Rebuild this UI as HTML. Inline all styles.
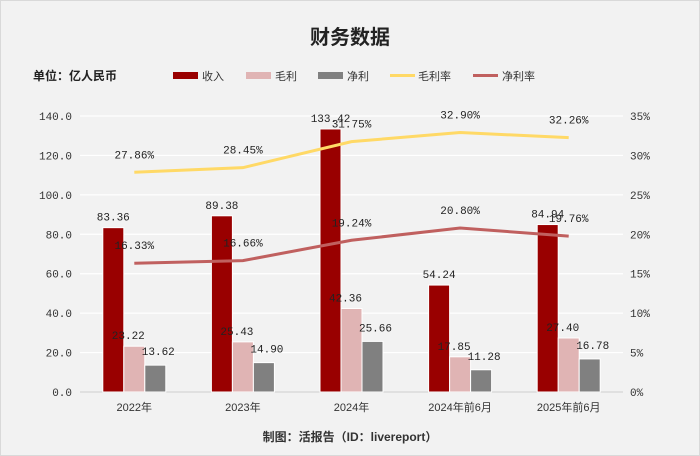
<!DOCTYPE html>
<html><head><meta charset="utf-8"><style>
body{margin:0;background:#fff}
#c{width:700px;height:456px;position:relative;overflow:hidden}
</style></head><body>
<div id="c">
<svg id="s" width="700" height="456" xmlns="http://www.w3.org/2000/svg">
<rect x="0.5" y="0.5" width="699" height="455" fill="#f2f2f2" stroke="#d9d9d9"/>
<text x="350" y="44" text-anchor="middle" font-family="Liberation Sans, Noto Sans CJK SC, sans-serif" font-size="20" font-weight="bold" fill="#222">财务数据</text>
<text x="33" y="80" font-family="Liberation Sans, Noto Sans CJK SC, sans-serif" font-size="12" font-weight="bold" fill="#222">单位：亿人民币</text>
<g id="legend" font-family="Liberation Sans, Noto Sans CJK SC, sans-serif" font-size="11" fill="#333">
<g><rect x="173" y="72" width="25" height="7" fill="#990000"/><text x="202" y="80">收入</text></g>
<g><rect x="246" y="72" width="25" height="7" fill="#e0b4b4"/><text x="275" y="80">毛利</text></g>
<g><rect x="318" y="72" width="25" height="7" fill="#808080"/><text x="347" y="80">净利</text></g>
<g><rect x="390" y="74" width="25" height="3" fill="#ffd966"/><text x="418" y="80">毛利率</text></g>
<g><rect x="473" y="74" width="25" height="3" fill="#c0605f"/><text x="502" y="80">净利率</text></g>
</g>
<g id="grid"></g><g id="bars"></g><g id="lines"></g><g id="labels"></g><g id="axes"></g>
<text x="350" y="441" text-anchor="middle" font-family="Liberation Sans, Noto Sans CJK SC, sans-serif" font-size="12" font-weight="bold" fill="#333">制图：活报告（ID：livereport）</text>
</svg>
</div>
<script>
const categories=["2022年","2023年","2024年","2024年前6月","2025年前6月"];
const revenue=[83.36,89.38,133.42,54.24,84.94];
const grossProfit=[23.22,25.43,42.36,17.85,27.40];
const netProfit=[13.62,14.90,25.66,11.28,16.78];
const grossMargin=[27.86,28.45,31.75,32.90,32.26];
const netMargin=[16.33,16.66,19.24,20.80,19.76];
const leftTicks=[0,20,40,60,80,100,120,140];
const rightTicks=[0,5,10,15,20,25,30,35];
const NS="http://www.w3.org/2000/svg";
const X0=80,X1=623,Y0=392,Y1=116;
const band=(X1-X0)/categories.length;
const xc=i=>X0+band*(i+0.5);
const yL=v=>Y0-(v/140)*(Y0-Y1);
const yR=v=>Y0-(v/35)*(Y0-Y1);
const MONO="Liberation Mono, monospace";
function mk(tag,attrs,parent,text){const e=document.createElementNS(NS,tag);for(const k in attrs)e.setAttribute(k,attrs[k]);if(text!==undefined)e.textContent=text;document.getElementById(parent).appendChild(e);return e;}
leftTicks.forEach((t,i)=>{
 const g=mk("line",{x1:X0,x2:X1,y1:yL(t),y2:yL(t),stroke:t===0?"#d9d9d9":"#ffffff","stroke-width":t===0?1.5:1.2},"grid");
 
 
 const l=mk("text",{x:72,y:yL(t)+4,"text-anchor":"end","font-family":MONO,"font-size":11,fill:"#333"},"axes",t.toFixed(1));
 
 
});
rightTicks.forEach(t=>{
 const l=mk("text",{x:630,y:yR(t)+4,"font-family":MONO,"font-size":11,fill:"#333"},"axes",t+"%");
 
 
});
categories.forEach((c,i)=>{
 const l=mk("text",{x:xc(i),y:411,"text-anchor":"middle","font-family":"Liberation Sans, Noto Sans CJK SC, sans-serif","font-size":11,fill:"#333"},"axes",c);
 
 
});
const bw=21;
const series=[[revenue,"#990000","revenue-bar"],[grossProfit,"#e0b4b4","gross-profit-bar"],[netProfit,"#808080","net-profit-bar"]];
series.forEach(([vals,col,nm],s)=>{
 vals.forEach((v,i)=>{
  const x=xc(i)-1.5*bw+s*bw;
  const r=mk("rect",{x:x,y:yL(v),width:bw,height:Y0-yL(v),fill:col,stroke:"#fff","stroke-width":1},"bars");
  
  
  const lx=s===0?x+bw/2:(s===1?x+bw/2-6:x+bw/2+3);
  const ly=s===0?yL(v)-7:(s===1?yL(v)-7:yL(v)-10);
  const t=mk("text",{x:lx,y:ly,"text-anchor":"middle","font-family":MONO,"font-size":11,fill:"#222"},"labels",v.toFixed(2));
  
  
 });
});
[[grossMargin,"#ffd966","gross-margin-line"],[netMargin,"#c0605f","net-margin-line"]].forEach(([vals,col,nm])=>{
 const p=mk("polyline",{points:vals.map((v,i)=>xc(i)+","+yR(v)).join(" "),fill:"none",stroke:col,"stroke-width":3},"lines");
 
 
 vals.forEach((v,i)=>{
  const t=mk("text",{x:xc(i),y:yR(v)-14,"text-anchor":"middle","font-family":MONO,"font-size":11,fill:"#222"},"labels",v.toFixed(2)+"%");
  
  
 });
});
</script>
</body></html>
